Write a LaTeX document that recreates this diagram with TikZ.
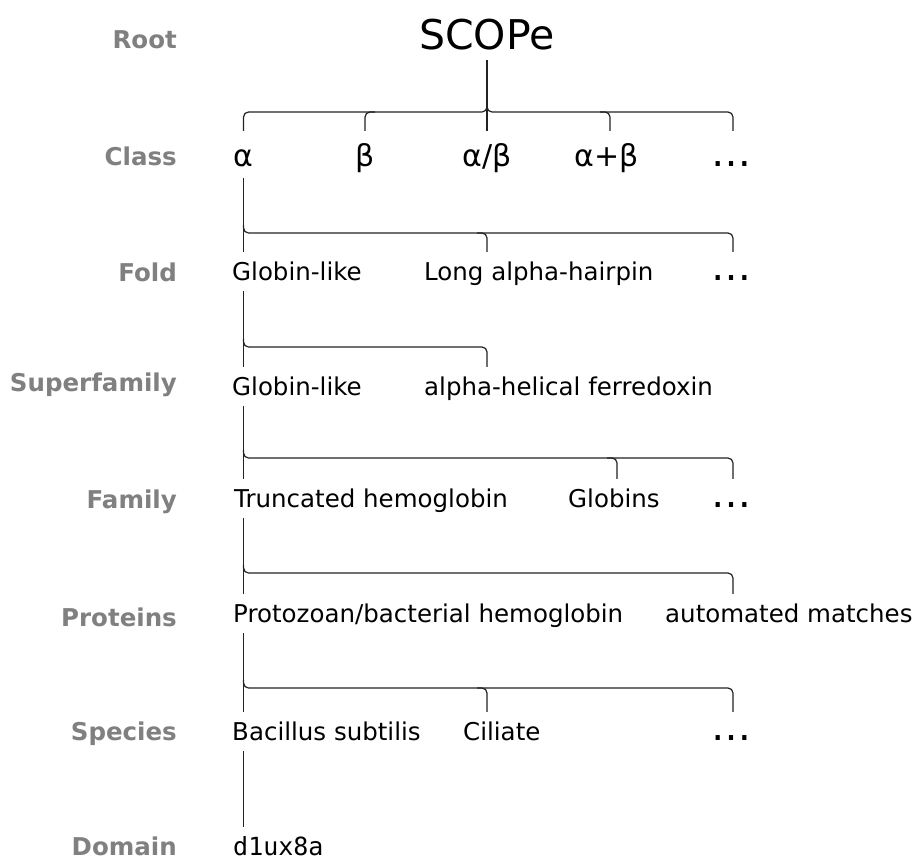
\documentclass[tikz,border=0pt]{standalone}
\usepackage{fontspec}
\setmainfont{DejaVu Sans}
\setmonofont{DejaVu Sans Mono}
\usetikzlibrary{calc}
\definecolor{rankgray}{HTML}{808080}
\definecolor{linkcol}{HTML}{222222}

\begin{document}
\begin{tikzpicture}[x=1pt,y=-1pt,
  rank/.style={anchor=base east, text=rankgray, inner sep=0pt,
    font=\fontsize{24.5}{28}\bfseries\selectfont},
  taxon/.style={anchor=base west, inner xsep=0pt, inner ysep=10pt,
    text height=18pt, text depth=1pt, font=\fontsize{24.5}{28}\selectfont},
  classlbl/.style={anchor=base, inner xsep=0pt, inner ysep=11pt,
    text height=24pt, text depth=1pt, font=\fontsize{30}{34}\selectfont},
  more/.style={anchor=base, inner xsep=0pt, inner ysep=10pt,
    text height=18pt, text depth=1pt, font=\fontsize{40}{40}\selectfont},
  link/.style={draw=linkcol, line width=1.2pt},
  brace/.style={link, rounded corners=5pt},
]
\path[fill=white, use as bounding box] (0,0) rectangle (915,860);

% column positions and bracket heights
\coordinate (colA) at (243.5,0);
\coordinate (colB) at (365,0);
\coordinate (colC) at (487,0);
\coordinate (colD) at (610,0);
\coordinate (colE) at (733,0);
\coordinate (colG) at (617,0);
\coordinate (kC) at (0,112);
\coordinate (kF) at (0,233);
\coordinate (kS) at (0,347);
\coordinate (kM) at (0,458);
\coordinate (kP) at (0,573);
\coordinate (kE) at (0,688);

% rank names
\node[rank] (rRoot)  at (177,48.5) {Root};
\node[rank] (rClass) at (177,165) {Class};
\node[rank] (rFold)  at (177,281) {Fold};
\node[rank] (rSup)   at (177,391) {Superfamily};
\node[rank] (rFam)   at (177,508) {Family};
\node[rank] (rProt)  at (177,626) {Proteins};
\node[rank] (rSpec)  at (177,740) {Species};
\node[rank] (rDom)   at (177,855.5) {Domain};

% root
\node[anchor=base, inner xsep=0pt, inner ysep=11pt, text depth=0pt,
  font=\fontsize{41}{46}\selectfont] (root) at (487,49) {SCOPe};

% class
\node[classlbl] (alpha) at (243.5,166) {α};
\node[classlbl] (beta)  at (365,166) {β};
\node[classlbl] (ab)    at (487,166) {α/β};
\node[classlbl] (apb)   at (607,166) {α+β};
\node[classlbl, font=\fontsize{40}{40}\selectfont] (cdots) at (731,166) {…};

% fold
\node[taxon] (foldA) at (232,280) {Globin-like};
\node[taxon] (foldB) at (424,280) {Long alpha-hairpin};
\node[more]  (foldC) at (731,280) {…};

% superfamily
\node[taxon] (supA) at (232,395) {Globin-like};
\node[taxon] (supB) at (424,395) {alpha-helical ferredoxin};

% family
\node[taxon] (famA) at (234,507) {Truncated hemoglobin};
\node[taxon] (famB) at (568,507) {Globins};
\node[more]  (famC) at (731,507) {…};

% proteins
\node[taxon] (protA) at (233,622) {Protozoan/bacterial hemoglobin};
\node[taxon] (protB) at (665,622) {automated matches};

% species
\node[taxon] (specA) at (232,740) {Bacillus subtilis};
\node[taxon] (specB) at (463,740) {Ciliate};
\node[more]  (specC) at (731,740) {…};

% domain
\node[taxon, font=\fontsize{25}{28}\ttfamily] (domA) at (233,855) {d1ux8a};

% root -> classes
\draw[link] (root.south) -- (ab.north);
\draw[brace] (alpha.north) |- (colC|-kC) -- ++(0,-6);
\draw[brace] (cdots.north -| colE) |- (colC|-kC) -- ++(0,-6);
\draw[brace] ($(colB|-kC)+(10,0)$) -| (beta.north);
\draw[brace] ($(colD|-kC)+(-10,0)$) -| (apb.north -| colD);

% alpha -> folds
\draw[link] (alpha.south) -- (foldA.north -| colA);
\draw[brace] ($(colA|-kF)+(0,-8)$) |- (colE|-kF) -- (foldC.north -| colE);
\draw[brace] ($(colC|-kF)+(-10,0)$) -| (foldB.north -| colC);

% globin-like fold -> superfamilies
\draw[link] (foldA.south -| colA) -- (supA.north -| colA);
\draw[brace] ($(colA|-kS)+(0,-8)$) |- (colC|-kS) -- (supB.north -| colC);

% globin-like superfamily -> families
\draw[link] (supA.south -| colA) -- (famA.north -| colA);
\draw[brace] ($(colA|-kM)+(0,-8)$) |- (colE|-kM) -- (famC.north -| colE);
\draw[brace] ($(colG|-kM)+(-10,0)$) -| (famB.north -| colG);

% truncated hemoglobin -> proteins
\draw[link] (famA.south -| colA) -- (protA.north -| colA);
\draw[brace] ($(colA|-kP)+(0,-8)$) |- (colE|-kP) -- (protB.north -| colE);

% protozoan/bacterial hemoglobin -> species
\draw[link] (protA.south -| colA) -- (specA.north -| colA);
\draw[brace] ($(colA|-kE)+(0,-8)$) |- (colE|-kE) -- (specC.north -| colE);
\draw[brace] ($(colC|-kE)+(-10,0)$) -| (specB.north -| colC);

% bacillus subtilis -> domain
\draw[link] (specA.south -| colA) -- (domA.north -| colA);
\end{tikzpicture}
\end{document}
